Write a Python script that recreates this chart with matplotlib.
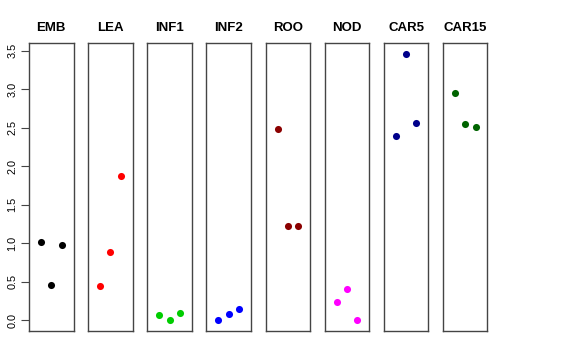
import matplotlib
matplotlib.use("Agg")
import matplotlib.pyplot as plt

plt.rcParams['font.family'] = ['Liberation Sans', 'DejaVu Sans']

# tissues and their colours
tissues = ["EMB", "LEA", "INF1", "INF2", "ROO", "NOD", "CAR5", "CAR15"]
colors = ["#000000", "#FF0000", "#00CD00", "#0000FF", "#8B0000", "#FF00FF", "#00008B", "#006400"]

# three replicate values per tissue
positions = [1, 2, 3]
emb = [1.02, 0.45, 0.97]
lea = [0.44, 0.88, 1.87]
inf1 = [0.07, 0.00, 0.09]
inf2 = [0.00, 0.08, 0.15]
roo = [2.48, 1.22, 1.22]
nod = [0.24, 0.41, 0.00]
car5 = [2.39, 3.46, 2.56]
car15 = [2.95, 2.55, 2.51]
values = [emb, lea, inf1, inf2, roo, nod, car5, car15]

yticks = [0.0, 0.5, 1.0, 1.5, 2.0, 2.5, 3.0, 3.5]

W, H = 576, 360
fig = plt.figure(figsize=(W / 100, H / 100), dpi=100)

# panel geometry in pixels
left0 = 29.0
pitch = 59.14
width = 44.5
top = 43.3
bottom = 330.7

ymin = min(min(v) for v in values)
ymax = max(max(v) for v in values)
pad = (ymax - ymin) * 0.04

for i, (name, col, vals) in enumerate(zip(tissues, colors, values)):
    x0 = left0 + i * pitch
    ax = fig.add_axes([x0 / W, 1 - bottom / H, width / W, (bottom - top) / H])
    ax.scatter(positions, vals, s=26, color=col, zorder=3, linewidths=0)
    ax.set_xlim(0 - 0.16, 4 + 0.16)
    ax.set_ylim(ymin - pad, ymax + pad)
    ax.set_xticks([])
    ax.set_title(name, fontsize=9.5, fontweight="bold", pad=9)
    for s in ax.spines.values():
        s.set_color("#444444")
        s.set_linewidth(1.0)
    if i == 0:
        ax.set_yticks(yticks)
        ax.set_yticklabels([f"{t:.1f}" for t in yticks], rotation=90, va="center", fontsize=7.8)
        ax.tick_params(axis="y", length=5.5, width=0.8, color="#444444", pad=3)
    else:
        ax.set_yticks([])

fig.savefig("out.png", dpi=100)
